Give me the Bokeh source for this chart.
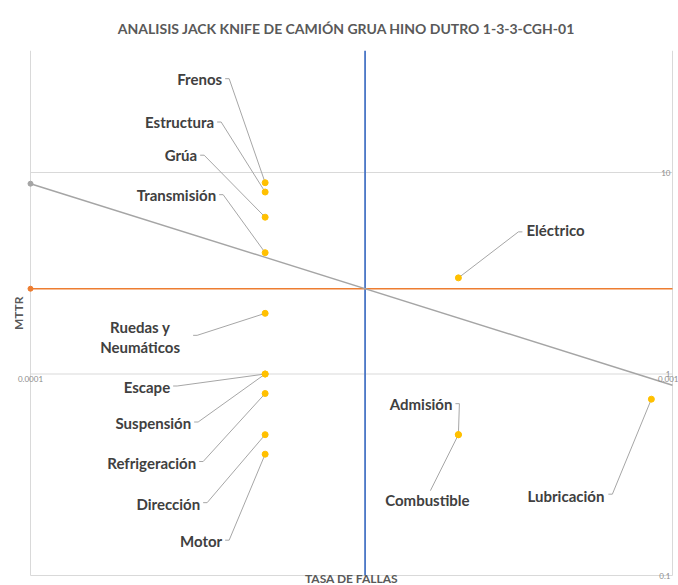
import math
from bokeh.plotting import figure
from bokeh.models import Range1d, FixedTicker, CustomJSTickFormatter, LogAxis, ColumnDataSource
from bokeh.core.properties import value
from bokeh.embed import file_html
from bokeh.resources import INLINE

# ---------------- data ----------------
componentes = ["Frenos", "Estructura", "Grúa", "Transmisión", "Ruedas y\nNeumáticos",
               "Escape", "Suspensión", "Refrigeración", "Dirección", "Motor",
               "Eléctrico", "Admisión", "Combustible", "Lubricación"]
tasa_fallas = [2.32e-4, 2.32e-4, 2.32e-4, 2.32e-4, 2.32e-4,
               2.32e-4, 2.32e-4, 2.32e-4, 2.32e-4, 2.32e-4,
               4.64e-4, 4.64e-4, 4.64e-4, 9.27e-4]
mttr = [8.9, 8.0, 6.0, 4.0, 2.0,
        1.0, 1.0, 0.8, 0.5, 0.4,
        3.0, 0.5, 0.5, 0.75]

tasa_limite = 3.32e-4
mttr_limite = 2.65
iso_x = [1e-4, 1e-3]
iso_y = [8.8, 0.88]

x_ticks = [1e-4, 1e-3]
y_ticks = [0.1, 1, 10]

titulo = "ANALISIS JACK KNIFE DE CAMIÓN GRUA HINO DUTRO 1-3-3-CGH-01"
eje_x = "TASA DE FALLAS"
eje_y = "MTTR"

# ---------------- layout (pixel offsets from each point) ----------------
# name: (text dx, text dy, align, leader dx, leader dy)
label_layout = {
    "Frenos": (-43, -104, "right", -40, -104),
    "Estructura": (-51, -70, "right", -48, -70),
    "Grúa": (-68, -62, "right", -65, -62),
    "Transmisión": (-49, -58, "right", -46, -58),
    "Ruedas y\nNeumáticos": (-125, 24, "center", -72, 22),
    "Escape": (-95, 13, "right", -92, 12),
    "Suspensión": (-74, 49, "right", -71, 48),
    "Refrigeración": (-69, 69, "right", -66, 68),
    "Dirección": (-65, 69, "right", -62, 68),
    "Motor": (-43, 87, "right", -40, 86),
    "Eléctrico": (68, -48, "left", 64, -46),
    "Admisión": (-6, -31, "right", -3, -31),
    "Combustible": (-31, 65, "center", -28, 56),
    "Lubricación": (-47, 97, "right", -43, 95),
}

XMIN, XMAX = 1e-4, 1e-3
YMIN = 0.1
W, H = 678, 585
PXX = 642.0           # pixels per decade, x
PXY = 201.5           # pixels per decade, y
PAD_L, PAD_R, PAD_B = 16, 6, 10  # frame extends this far past the data box
BL, BR, BT, BB = 30 - PAD_L, 0, 50, 0
YMAX = YMIN * 10 ** ((H - BT - BB - PAD_B) / PXY)
X_LO = XMIN * 10 ** (-PAD_L / PXX)
X_HI = XMAX * 10 ** (PAD_R / PXX)
Y_LO = YMIN * 10 ** (-PAD_B / PXY)


def off(x, y, dx, dy):
    return x * 10 ** (dx / PXX), y * 10 ** (-dy / PXY)


p = figure(width=W, height=H, x_axis_type="log", y_axis_type="log",
           x_range=Range1d(X_LO, X_HI), y_range=Range1d(Y_LO, YMAX),
           output_backend="svg", toolbar_location=None,
           min_border_left=BL, min_border_right=BR, min_border_top=BT, min_border_bottom=BB)
p.outline_line_color = None
p.background_fill_color = "white"
p.border_fill_color = "white"
p.xaxis.visible = False
p.yaxis.visible = False
p.xgrid.visible = False
p.ygrid.visible = False

# title
p.title.text = titulo
p.title.align = "center"
p.title.text_font = "Lato"
p.title.text_font_style = "bold"
p.title.text_font_size = "14px"
p.title.text_color = "#595959"
p.title.standoff = 28

# gridlines over the data box
p.segment(x0=[XMIN] * len(y_ticks), x1=[XMAX] * len(y_ticks), y0=y_ticks, y1=y_ticks,
          line_color="#d9d9d9", line_width=1)
p.segment(x0=x_ticks, x1=x_ticks, y0=[YMIN] * len(x_ticks), y1=[YMAX] * len(x_ticks),
          line_color="#d9d9d9", line_width=1)

# tick axes crossing inside the plot
fmt = CustomJSTickFormatter(code="return tick.toString();")
xa = LogAxis(fixed_location=1.0)
ya = LogAxis(fixed_location=XMAX)
for ax, ticks in ((xa, x_ticks), (ya, y_ticks)):
    ax.ticker = FixedTicker(ticks=ticks)
    ax.formatter = fmt
    ax.axis_line_color = None
    ax.major_tick_line_color = None
    ax.minor_tick_line_color = None
    ax.major_tick_in = 0
    ax.major_tick_out = 0
    ax.major_label_text_font = "Lato"
    ax.major_label_text_font_size = "8px"
    ax.major_label_text_color = "#8c8c8c"
    ax.major_label_standoff = 2
p.add_layout(xa, "below")
p.add_layout(ya, "left")

# threshold lines
p.line([tasa_limite, tasa_limite], [YMIN, YMAX], line_color="#4472C4", line_width=1.75)
p.line([XMIN, XMAX], [mttr_limite, mttr_limite], line_color="#ED7D31", line_width=1.5)
p.scatter([XMIN], [mttr_limite], size=5, color="#ED7D31")
p.line(iso_x, iso_y, line_color="#A5A5A5", line_width=1.5)
p.scatter([iso_x[0]], [iso_y[0]], size=5, color="#A5A5A5")

# leaders and labels
lx, ly, tx, ty, ta, tn = [], [], [], [], [], []
for name, x, y in zip(componentes, tasa_fallas, mttr):
    tdx, tdy, al, ldx, ldy = label_layout[name]
    x0, y0 = off(x, y, ldx, ldy)
    if name == "Combustible":
        lx.append([x0, x]); ly.append([y0, y])
    else:
        step = 4 if ldx < 0 else -4
        x1, y1 = off(x, y, ldx + step, ldy)
        lx.append([x0, x1, x]); ly.append([y0, y1, y])
    a, b = off(x, y, tdx, tdy)
    tx.append(a); ty.append(b); ta.append(al); tn.append(name)

p.multi_line(lx, ly, line_color="#A6A6A6", line_width=1)
p.scatter(tasa_fallas, mttr, size=6, color="#FFC000")

src = ColumnDataSource(dict(x=tx, y=ty, t=tn, a=ta))
p.text("x", "y", text="t", source=src, text_align="a", text_baseline="middle",
       text_font=value("Lato"), text_font_style="bold", text_font_size="15px",
       text_color="#404040", text_line_height=1.1)

# axis titles
mid = math.sqrt(XMIN * XMAX)
p.text([mid], [YMIN * 10 ** (-3 / PXY)], text=[eje_x], text_align="center",
       text_baseline="middle", text_font=value("Lato"), text_font_style="bold",
       text_font_size="12px", text_color="#595959")
p.text([XMIN * 10 ** (-12 / PXX)], [2.0], text=[eje_y], angle=math.pi / 2,
       text_align="center", text_baseline="middle", text_font=value("Lato"),
       text_font_style="bold", text_font_size="12px", text_color="#595959")

open("out.html", "w").write(file_html(p, INLINE))
